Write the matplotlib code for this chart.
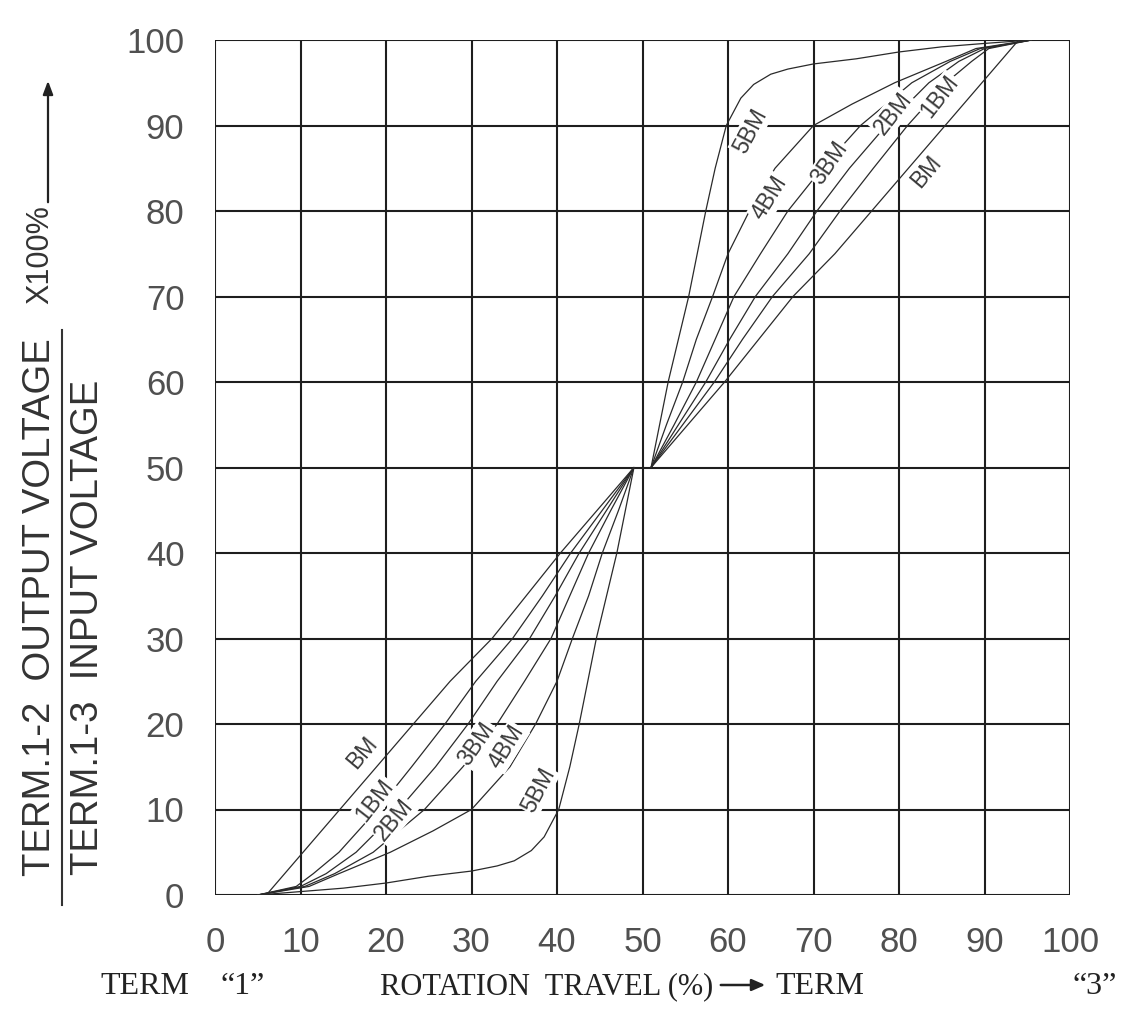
import matplotlib
matplotlib.use("Agg")
import matplotlib.pyplot as plt
from matplotlib.lines import Line2D
from matplotlib.patches import FancyArrowPatch

W, H = 1121, 1019

# ---------------- data ----------------
ticks = [0, 10, 20, 30, 40, 50, 60, 70, 80, 90, 100]
tick_labels = ["0", "10", "20", "30", "40", "50", "60", "70", "80", "90", "100"]

# lower branch (term 1 side) and upper branch (term 3 side) of each taper curve
BM_lo_x = [6, 10.3, 14.6, 23.2, 27.5, 32.4, 36.4, 40.4, 44.7, 49]
BM_lo_y = [0, 5, 10, 20, 25, 30, 35, 40, 45, 50]
BM_hi_x = [51, 55.3, 59.6, 63.6, 67.6, 72.5, 76.8, 85.4, 89.7, 94]
BM_hi_y = [50, 55, 60, 65, 70, 75, 80, 90, 95, 100]

Y13_lo = [0, 1, 2.5, 5, 10, 15, 20, 25, 30, 35, 40, 45, 50]
Y13_hi = [50, 55, 60, 65, 70, 75, 80, 85, 90, 95, 97.5, 99, 100]

BM1_lo_x = [5, 9.5, 11.5, 14.5, 19, 23, 26.9, 30.5, 34.8, 38.3, 41.6, 45.3, 49]
BM1_hi_x = [51, 54.7, 58.4, 61.7, 65.2, 69.5, 73.1, 77, 81, 85.5, 88.5, 90.5, 95.5]

BM2_lo_x = [5, 10, 13, 16.5, 21.5, 25.8, 29.6, 33, 36.8, 39.8, 42.6, 45.8, 49]
BM2_hi_x = [51, 54.2, 57.4, 60.2, 63.2, 67, 70.4, 74.2, 78.5, 83.5, 87, 90, 95.5]

BM3_lo_x = [5, 10.5, 14, 18.5, 24.5, 29, 33, 36.2, 39.3, 41.5, 43.7, 46.3, 49]
BM3_hi_x = [51, 53.7, 56.3, 58.5, 60.7, 63.8, 67, 71, 75.5, 81.5, 86, 89.5, 95.5]

BM4_lo_y = [0, 1, 2.5, 5, 7.5, 10, 15, 20, 25, 30, 35, 40, 45, 50]
BM4_lo_x = [5, 11, 14.5, 20.5, 25.5, 30, 34.5, 37.5, 40, 41.8, 43.7, 45.3, 47.2, 49]
BM4_hi_y = [50, 55, 60, 65, 70, 75, 80, 85, 90, 92.5, 95, 97.5, 99, 100]
BM4_hi_x = [51, 52.8, 54.7, 56.3, 58.2, 60, 62.5, 65.5, 70, 74.5, 79.5, 85.5, 89, 95.5]

BM5_lo_x = [5, 10, 15, 20, 25, 30, 33, 35, 37, 38.5, 40.2, 41.5, 42.6, 43.6, 44.6, 45.8, 47, 48, 49]
BM5_lo_y = [0, 0.4, 0.8, 1.4, 2.2, 2.8, 3.4, 4.0, 5.2, 6.8, 10, 15, 20, 25, 30, 35, 40, 45, 50]
BM5_hi_x = [51, 52, 53, 54.2, 55.4, 56.4, 57.4, 58.5, 59.8, 61.5, 63, 65, 67, 70, 75, 80, 85, 90, 95.5]
BM5_hi_y = [50, 55, 60, 65, 70, 75, 80, 85, 90, 93.2, 94.8, 96, 96.6, 97.2, 97.8, 98.6, 99.2, 99.6, 100]

curves = [
    (BM_lo_x, BM_lo_y), (BM_hi_x, BM_hi_y),
    (BM1_lo_x, Y13_lo), (BM1_hi_x, Y13_hi),
    (BM2_lo_x, Y13_lo), (BM2_hi_x, Y13_hi),
    (BM3_lo_x, Y13_lo), (BM3_hi_x, Y13_hi),
    (BM4_lo_x, BM4_lo_y), (BM4_hi_x, BM4_hi_y),
    (BM5_lo_x, BM5_lo_y), (BM5_hi_x, BM5_hi_y),
]

# curve labels: text, x, y, rotation
curve_labels = [
    ("BM", 17.2, 16.6, 50), ("1BM", 18.7, 11.1, 52), ("2BM", 20.9, 8.8, 50),
    ("3BM", 30.6, 17.7, 55), ("4BM", 34.1, 17.3, 58), ("5BM", 37.8, 12.3, 62),
    ("5BM", 62.6, 89.3, 62), ("4BM", 64.9, 81.5, 58), ("3BM", 71.9, 85.6, 55),
    ("2BM", 79.3, 91.4, 52), ("1BM", 84.8, 93.4, 52), ("BM", 83.2, 84.6, 50),
]

# ---------------- figure ----------------
fig = plt.figure(figsize=(W / 100, H / 100), dpi=100)
fig.patch.set_facecolor("white")
ax = fig.add_axes([215 / W, 1 - 895 / H, 855 / W, 855 / H])
ax.set_xlim(0, 100)
ax.set_ylim(0, 100)

grid_col = "#1e1e1e"
for t in ticks:
    ax.axvline(t, color=grid_col, lw=1.5, zorder=1)
    ax.axhline(t, color=grid_col, lw=1.5, zorder=1)
for s in ax.spines.values():
    s.set_visible(False)

for cx, cy in curves:
    ax.plot(cx, cy, color="#2a2a2a", lw=0.9, zorder=3, solid_capstyle="round")

label_font = ["Liberation Sans", "DejaVu Sans"]
for txt, lx, ly, rot in curve_labels:
    ax.text(lx, ly, txt, rotation=rot, rotation_mode="anchor", ha="center", va="center",
            fontsize=16.5, color="#3a3a3a", family=label_font, zorder=4,
            bbox=dict(boxstyle="square,pad=0.05", fc="white", ec="none"))

ax.set_xticks(ticks)
ax.set_yticks(ticks)
ax.set_xticklabels(tick_labels)
ax.set_yticklabels(tick_labels)
ax.tick_params(length=0, labelsize=25, labelcolor="#505050", pad=22)
for lab in ax.get_xticklabels() + ax.get_yticklabels():
    lab.set_family(label_font)

def fx(px):
    return px / W

def fy(py):
    return 1 - py / H

serif = ["Liberation Serif", "DejaVu Serif"]
tcol = "#222222"
fig.text(fx(100), fy(987), "TERM", ha="left", va="center", fontsize=23, family=serif, color=tcol)
fig.text(fx(243), fy(987), "\u201c1\u201d", ha="center", va="center", fontsize=23, family=serif, color=tcol)
fig.text(fx(380), fy(987), "ROTATION  TRAVEL (%)", ha="left", va="center", fontsize=22,
         family=serif, color=tcol)
fig.add_artist(FancyArrowPatch((fx(718), fy(985)), (fx(768), fy(985)), transform=fig.transFigure,
                               arrowstyle="-|>,head_length=8,head_width=3.5", color=tcol, lw=1.8))
fig.text(fx(775), fy(987), "TERM", ha="left", va="center", fontsize=23, family=serif, color=tcol)
fig.text(fx(1095), fy(987), "\u201c3\u201d", ha="center", va="center", fontsize=23, family=serif, color=tcol)

# y-axis fraction label
fig.text(fx(40), fy(607), "TERM.1-2  OUTPUT VOLTAGE", rotation=90, ha="center", va="center",
         fontsize=27.5, family=label_font, color="#333333")
fig.text(fx(88), fy(627), "TERM.1-3  INPUT VOLTAGE", rotation=90, ha="center", va="center",
         fontsize=27.5, family=label_font, color="#333333")
fig.add_artist(Line2D([fx(62), fx(62)], [fy(905), fy(330)], transform=fig.transFigure,
                      color="#333333", lw=1.5))
fig.text(fx(40), fy(255), "X100%", rotation=90, ha="center", va="center",
         fontsize=22, family=label_font, color="#333333")
fig.add_artist(FancyArrowPatch((fx(48), fy(205)), (fx(48), fy(78)), transform=fig.transFigure,
                               arrowstyle="-|>,head_length=8,head_width=3", color=tcol, lw=1.6))

fig.savefig("out.png", dpi=100, facecolor="white")
